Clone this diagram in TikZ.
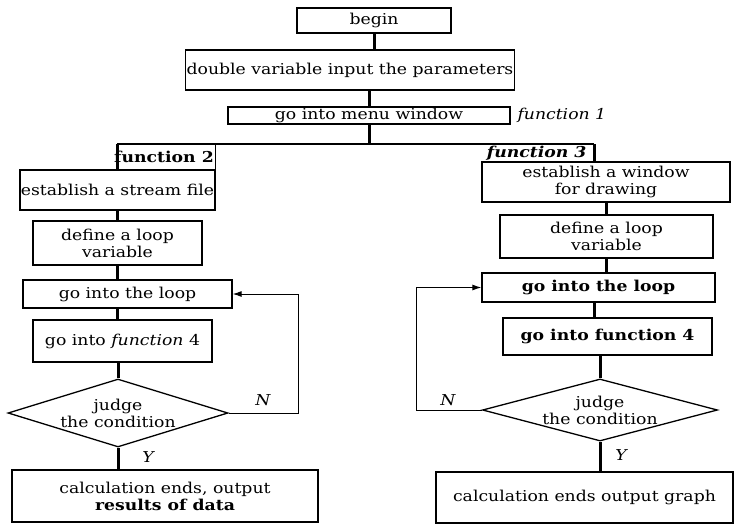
\documentclass[tikz,border=0pt]{standalone}
\usepackage{fontspec}
\setmainfont{DejaVu Serif}[FakeStretch=1.15]
\usepackage{tikz}
\usetikzlibrary{shapes.geometric, arrows.meta}

\tikzset{
    stepbox/.style={draw, line width=1.3pt, rectangle, align=center, inner sep=1pt},
    decision/.style={draw, line width=1.3pt, diamond, align=center, inner sep=0pt},
    link/.style={line width=3pt},
    back/.style={line width=1pt, -{Latex[length=9pt,width=6pt]}},
    lbl/.style={font=\fontsize{15}{17}\selectfont\itshape}
}

\begin{document}
\begin{tikzpicture}[x=1pt, y=-1pt, font=\fontsize{15}{17}\selectfont]
    \useasboundingbox (0,0) rectangle (736,525);

    % Top part
    \node[stepbox, minimum width=154, minimum height=25] (begin) at (374,20.5) {begin};
    \node[stepbox, minimum width=326, minimum height=40] (params) at (350,70) {double variable input the parameters};
    \node[stepbox, minimum width=282, minimum height=17, inner sep=0pt] (menu) at (369,115.5) {go into menu window};
    \node[lbl, anchor=west] (fn1) at (514,115.5) {function 1};

    % Split into two branches
    \coordinate (split) at (369,144);
    \coordinate (jl) at (117,144);
    \coordinate (jr) at (594,144);
    \draw[link] (menu) -- (split);
    \draw[line width=1.3pt] (jl) -- (jr);

    % Left branch (function 2)
    \node[stepbox, minimum width=191, minimum height=40] (est1) at (117.5,190) {establish a stream file};
    \node[font=\fontsize{15}{17}\selectfont\bfseries] (fn2) at (164,157) {function 2};
    \draw[line width=1.3pt] (est1.north east) -- (est1.north east |- jl);
    \node[stepbox, minimum width=169, minimum height=44] (def1) at (117.5,243) {define a loop\\variable};
    \node[stepbox, minimum width=209, minimum height=28] (loop1) at (127.5,294) {go into the loop};
    \node[stepbox, minimum width=179, minimum height=42] (fun1) at (122.5,341) {go into \textit{function} 4};
    \node[decision, aspect=2.93, minimum width=220] (dec1) at (118,413) {judge\\the condition};
    \node[stepbox, minimum width=306, minimum height=52] (end1) at (165,496) {calculation ends, output\\\textbf{results of data}};

    % Right branch (function 3)
    \node[stepbox, minimum width=248, minimum height=40] (est2) at (606,182) {establish a window\\for drawing};
    \node[font=\fontsize{15}{17}\selectfont\bfseries\itshape, anchor=east] (fn3) at (590,153) {function 3};
    \node[stepbox, minimum width=213, minimum height=43] (def2) at (606.5,236.5) {define a loop\\variable};
    \node[stepbox, minimum width=233, minimum height=29, font=\fontsize{15}{17}\selectfont\bfseries] (loop2) at (598.5,287.5) {go into the loop};
    \node[stepbox, minimum width=209, minimum height=37, font=\fontsize{15}{17}\selectfont\bfseries] (fun2) at (607.5,336.5) {go into function 4};
    \node[decision, aspect=3.45, minimum width=235] (dec2) at (600,410) {judge\\the condition};
    \node[stepbox, minimum width=297, minimum height=51] (end2) at (584.5,497.5) {calculation ends output graph};

    % Downward connectors
    \draw[link] (jl) -- (jl |- est1.north);
    \draw[link] (jr) -- (jr |- est2.north);
    \draw[link] (begin) -- (begin.south |- params.north);
    \draw[link] (params.south -| menu) -- (menu);
    \foreach \a/\b in {est1/def1, def1/loop1, est2/def2, def2/loop2} {
        \draw[link] (\a.south) -- (\a.south |- \b.north);
    }
    \draw[link] (loop1.south -| def1) -- (def1 |- fun1.north);
    \draw[link] (fun1.south -| dec1) -- (dec1.north);
    \draw[link] (dec1.south) -- (dec1.south |- end1.north);
    \draw[link] (loop2.south -| jr) -- (jr |- fun2.north);
    \draw[link] (fun2.south -| dec2) -- (dec2.north);
    \draw[link] (dec2.south) -- (dec2.south |- end2.north);

    % Loop back (N)
    \draw[back] (dec1.east) -- ++(70,0) |- (loop1.east);
    \draw[back] (dec2.west) -- ++(-65,0) |- (loop2.west);
    \node[lbl] (n1) at (263,400) {N};
    \node[lbl] (n2) at (448,400) {N};
    \node[lbl] (y1) at (148,457) {Y};
    \node[lbl] (y2) at (621,455) {Y};
\end{tikzpicture}
\end{document}
